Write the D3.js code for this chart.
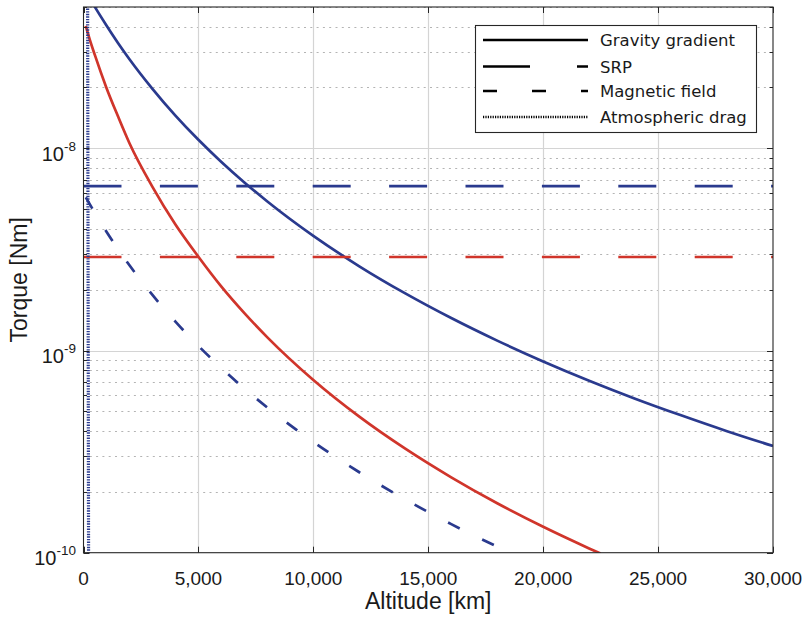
<!DOCTYPE html>
<html>
<head>
<meta charset="utf-8">
<script src="https://cdn.jsdelivr.net/npm/d3@7"></script>
<style>
  html, body { margin: 0; padding: 0; background: #fff; }
  svg { display: block; }
</style>
</head>
<body>
<svg id="chart" width="809" height="621"></svg>
<script>
// Disturbance torques versus altitude (Earth orbit in blue, Mars orbit in red)

const xTicks = [0, 5000, 10000, 15000, 20000, 25000, 30000];
const yDecades = [1e-10, 1e-9, 1e-8];
const yExponents = ["-10", "-9", "-8"];

// Gravity gradient, Earth
const ggEarthAlt = [0, 250, 500, 1000, 1500, 2000, 3000, 4000, 5000, 6000, 7000, 8000, 10000,
  12000, 14000, 16000, 18000, 20000, 22000, 24000, 26000, 28000, 30000];
const ggEarth = [6.26e-8, 5.58e-8, 4.99e-8, 4.05e-8, 3.32e-8, 2.76e-8, 1.97e-8, 1.452e-8, 1.102e-8,
  8.56e-9, 6.78e-9, 5.46e-9, 3.69e-9, 2.61e-9, 1.916e-9, 1.447e-9, 1.119e-9, 8.83e-10, 7.09e-10,
  5.78e-10, 4.78e-10, 3.99e-10, 3.37e-10];

// Gravity gradient, Mars
const ggMarsAlt = [100, 250, 500, 1000, 1500, 2000, 3000, 4000, 5000, 6000, 7000, 8000, 10000,
  12000, 14000, 16000, 18000, 20000, 22000, 22500];
const ggMars = [4.03e-8, 3.52e-8, 2.88e-8, 1.99e-8, 1.44e-8, 1.06e-8, 6.45e-9, 4.2e-9, 2.91e-9,
  2.07e-9, 1.531e-9, 1.162e-9, 7.15e-10, 4.71e-10, 3.27e-10, 2.36e-10, 1.756e-10, 1.343e-10,
  1.050e-10, 9.90e-11];

// Solar radiation pressure (constant with altitude)
const srpAlt = [0, 30000];
const srpEarth = [6.5e-9, 6.5e-9];
const srpMars = [2.9e-9, 2.9e-9];

// Magnetic field, Earth
const magAlt = [100, 500, 1000, 2000, 3000, 4000, 5000, 6000, 7000, 8000, 10000, 12000, 14000, 16000, 18000];
const magEarth = [5.72e-9, 4.78e-9, 3.87e-9, 2.64e-9, 1.884e-9, 1.390e-9, 1.054e-9, 8.19e-10,
  6.48e-10, 5.22e-10, 3.53e-10, 2.50e-10, 1.834e-10, 1.384e-10, 1.071e-10];

// Atmospheric drag, Earth
const dragAlt = [175, 190, 205, 220];
const dragEarth = [1e-7, 1e-8, 1e-9, 1e-10];

const legendLabels = ["Gravity gradient", "SRP", "Magnetic field", "Atmospheric drag"];

const BLUE = "#2a3a8e";
const RED = "#d0352b";
const AXIS = "#262626";

const L = 83.5, R = 773, T = 7, B = 552.7;

const svg = d3.select("#chart");
const x = d3.scaleLinear().domain([0, 30000]).range([L, R]);
const y = d3.scaleLog().domain([1e-10, 5e-8]).range([B, T]);

// minor values for the log axis
const minorVals = [];
yDecades.forEach(d => { for (let k = 2; k <= 9; k++) { const v = d * k; if (v <= 5e-8 * 1.0001) minorVals.push(v); } });

const grid = svg.append("g");
// minor horizontal grid (dotted)
grid.selectAll("line.minor").data(minorVals).join("line")
  .attr("x1", L).attr("x2", R)
  .attr("y1", d => Math.round(y(d)) + 0.5).attr("y2", d => Math.round(y(d)) + 0.5)
  .attr("stroke", "#b4b4b4").attr("stroke-width", 1).attr("stroke-dasharray", "2,4.3");
// major horizontal grid
grid.selectAll("line.majy").data(yDecades.slice(1)).join("line")
  .attr("x1", L).attr("x2", R)
  .attr("y1", d => Math.round(y(d)) + 0.5).attr("y2", d => Math.round(y(d)) + 0.5)
  .attr("stroke", "#d4d4d4").attr("stroke-width", 1.2);
// major vertical grid
grid.selectAll("line.majx").data(xTicks.slice(1, -1)).join("line")
  .attr("x1", d => Math.round(x(d)) + 0.5).attr("x2", d => Math.round(x(d)) + 0.5)
  .attr("y1", T).attr("y2", B)
  .attr("stroke", "#d4d4d4").attr("stroke-width", 1.2);

svg.append("clipPath").attr("id", "plotclip")
  .append("rect").attr("x", L).attr("y", T).attr("width", R - L).attr("height", B - T);

const plot = svg.append("g").attr("clip-path", "url(#plotclip)");
const lineGen = d3.line().x(d => x(d[0])).y(d => y(d[1])).curve(d3.curveMonotoneX);
const zipPts = (a, b) => a.map((v, i) => [v, b[i]]);

function drawSeries(alt, vals, color, dash, width) {
  plot.append("path").datum(zipPts(alt, vals))
    .attr("d", lineGen)
    .attr("fill", "none").attr("stroke", color)
    .attr("stroke-width", width)
    .attr("stroke-dasharray", dash);
}

drawSeries(ggEarthAlt, ggEarth, BLUE, null, 2.7);
drawSeries(ggMarsAlt, ggMars, RED, null, 2.7);
drawSeries(srpAlt, srpEarth, BLUE, "38,38.4", 2.7);
drawSeries(srpAlt, srpMars, RED, "38,38.4", 2.7);
drawSeries(magAlt, magEarth, BLUE, "13,25", 2.7);
drawSeries(dragAlt, dragEarth, BLUE, "1.4,1.2", 3.2);

// axes box and ticks
const axes = svg.append("g");
axes.append("rect").attr("x", L).attr("y", T).attr("width", R - L).attr("height", B - T)
  .attr("fill", "none").attr("stroke", AXIS).attr("stroke-width", 1.1);

xTicks.forEach(v => {
  const px = Math.round(x(v)) + 0.5;
  axes.append("line").attr("x1", px).attr("x2", px).attr("y1", B).attr("y2", B - 6).attr("stroke", AXIS);
  axes.append("line").attr("x1", px).attr("x2", px).attr("y1", T).attr("y2", T + 6).attr("stroke", AXIS);
});
yDecades.forEach(v => {
  const py = Math.round(y(v)) + 0.5;
  axes.append("line").attr("x1", L).attr("x2", L + 6).attr("y1", py).attr("y2", py).attr("stroke", AXIS);
  axes.append("line").attr("x1", R).attr("x2", R - 6).attr("y1", py).attr("y2", py).attr("stroke", AXIS);
});
minorVals.forEach(v => {
  const py = Math.round(y(v)) + 0.5;
  axes.append("line").attr("x1", L).attr("x2", L + 3.5).attr("y1", py).attr("y2", py).attr("stroke", AXIS);
  axes.append("line").attr("x1", R).attr("x2", R - 3.5).attr("y1", py).attr("y2", py).attr("stroke", AXIS);
});

// x tick labels
const fmt = d3.format(",");
svg.append("g").selectAll("text").data(xTicks).join("text")
  .attr("x", d => x(d)).attr("y", 585)
  .attr("text-anchor", "middle")
  .attr("font-family", "'Liberation Sans', Arial, sans-serif")
  .attr("font-size", 19).attr("fill", "#1a1a1a")
  .text(d => fmt(d));

// y tick labels with superscript exponent
const yl = svg.append("g");
yDecades.forEach((v, i) => {
  const t = yl.append("text")
    .attr("x", 76).attr("y", y(v) + 12.5)
    .attr("text-anchor", "end")
    .attr("font-family", "'Liberation Sans', Arial, sans-serif")
    .attr("fill", "#1a1a1a");
  t.append("tspan").attr("font-size", 20).text("10");
  t.append("tspan").attr("font-size", 13.5).attr("dy", -10).text(yExponents[i]);
});

// axis titles
svg.append("text")
  .attr("x", (L + R) / 2).attr("y", 609)
  .attr("text-anchor", "middle")
  .attr("font-family", "'Liberation Sans', Arial, sans-serif")
  .attr("font-size", 23).attr("fill", "#1a1a1a")
  .text("Altitude [km]");
svg.append("text")
  .attr("transform", `translate(27,${(T + B) / 2}) rotate(-90)`)
  .attr("text-anchor", "middle")
  .attr("font-family", "'Liberation Sans', Arial, sans-serif")
  .attr("font-size", 23).attr("fill", "#1a1a1a")
  .text("Torque [Nm]");

// legend
const lg = svg.append("g");
lg.append("rect").attr("x", 475.5).attr("y", 25.5).attr("width", 281).attr("height", 107)
  .attr("fill", "#fff").attr("stroke", AXIS).attr("stroke-width", 1.1);
const legendDash = [null, "47,47", "14,35", "1.2,1.2"];
const legendWidth = [2.6, 2.6, 2.6, 2.4];
const rowY = [40, 66.5, 91, 117];
legendLabels.forEach((lab, i) => {
  lg.append("line").attr("x1", 483).attr("x2", 588).attr("y1", rowY[i]).attr("y2", rowY[i])
    .attr("stroke", "#000").attr("stroke-width", legendWidth[i])
    .attr("stroke-dasharray", legendDash[i]);
  lg.append("text").attr("x", 600).attr("y", rowY[i] + 6)
    .attr("font-family", "'DejaVu Sans', sans-serif")
    .attr("font-size", 16.5).attr("fill", "#1a1a1a")
    .text(lab);
});
</script>
</body>
</html>
